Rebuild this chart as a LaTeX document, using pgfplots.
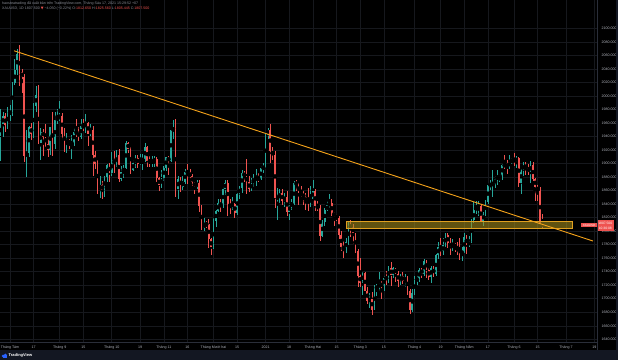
\documentclass[border=0pt]{standalone}
\usepackage{fontspec}
\setmainfont{Liberation Sans}
\newfontfamily\dejavu{DejaVu Sans}
\usepackage{pgfplots}
\usepackage{pgfplotstable}
\pgfplotsset{compat=1.18}
\definecolor{upc}{HTML}{26A69A}
\definecolor{dnc}{HTML}{EF5350}
\definecolor{txt}{HTML}{B2B5BE}
\definecolor{txtd}{HTML}{8A8D96}
\definecolor{gridc}{HTML}{16181D}
\definecolor{sepc}{HTML}{2A2E39}
\definecolor{trend}{HTML}{F5A31A}
\definecolor{zonef}{HTML}{A08A1C}
\definecolor{zoned}{HTML}{E0A020}
\definecolor{barc}{HTML}{131722}
\definecolor{tvblue}{HTML}{2962FF}

\pgfplotstableread{
i o h l c
-4 1941 1981 1904 1958
-3 1958 1977 1939 1970
-2 1970 1975 1946 1957
-1 1957 1984 1951 1975
0 1975 1987 1963 1976
1 1976 2021 1970 2019
2 2019 2055 2016 2038
3 2038 2070 2031 2062
4 2062 2075 2015 2035
5 2035 2040 2004 2028
6 2028 2032 1902 1911
7 1911 1950 1880 1915
8 1915 1956 1910 1954
9 1954 1960 1935 1944
10 1944 1989 1938 1985
11 1985 2015 1976 2002
12 2002 2016 1929 1930
13 1930 1952 1905 1947
14 1947 1951 1911 1940
15 1940 1958 1925 1929
16 1929 1939 1910 1920
17 1920 1954 1912 1954
18 1954 1977 1911 1929
19 1929 1976 1921 1964
20 1964 1980 1958 1968
21 1968 1993 1963 1971
22 1971 1975 1935 1944
23 1944 1953 1917 1930
24 1930 1945 1916 1934
25 1934 1937 1921 1930
26 1930 1942 1907 1931
27 1931 1952 1926 1947
28 1947 1966 1939 1946
29 1946 1954 1934 1940
30 1940 1966 1937 1956
31 1956 1966 1948 1954
32 1954 1973 1945 1960
33 1960 1962 1926 1944
34 1944 1959 1941 1950
35 1950 1955 1882 1912
36 1912 1918 1892 1900
37 1900 1906 1855 1863
38 1863 1881 1849 1868
39 1868 1874 1848 1861
40 1861 1882 1851 1880
41 1880 1900 1873 1898
42 1898 1901 1872 1886
43 1886 1917 1882 1906
44 1906 1918 1886 1899
45 1899 1920 1895 1913
46 1913 1921 1873 1877
47 1877 1896 1874 1887
48 1887 1898 1878 1894
49 1894 1933 1892 1930
50 1930 1932 1915 1922
51 1922 1925 1885 1891
52 1891 1905 1889 1901
53 1901 1912 1893 1908
54 1908 1912 1893 1900
55 1900 1914 1898 1904
56 1904 1914 1891 1907
57 1907 1931 1903 1924
58 1924 1926 1895 1904
59 1904 1911 1895 1902
60 1902 1911 1895 1903
61 1903 1911 1895 1907
62 1907 1910 1873 1878
63 1878 1880 1860 1868
64 1868 1890 1864 1879
65 1879 1897 1874 1894
66 1894 1910 1889 1909
67 1909 1911 1883 1904
68 1904 1951 1902 1950
69 1950 1965 1936 1951
70 1951 1966 1850 1862
71 1862 1881 1848 1877
72 1877 1880 1858 1866
73 1866 1881 1861 1873
74 1873 1892 1870 1888
75 1888 1899 1870 1887
76 1887 1892 1874 1881
77 1881 1885 1867 1872
78 1872 1873 1855 1866
79 1866 1876 1862 1871
80 1871 1876 1828 1837
81 1837 1839 1801 1805
82 1805 1819 1800 1811
83 1811 1815 1804 1810
84 1810 1818 1775 1788
85 1788 1790 1764 1776
86 1776 1820 1773 1815
87 1815 1832 1806 1830
88 1830 1847 1828 1841
89 1841 1848 1829 1838
90 1838 1866 1834 1863
91 1863 1875 1853 1871
92 1871 1875 1823 1839
93 1839 1848 1826 1837
94 1837 1850 1832 1840
95 1840 1842 1819 1827
96 1827 1857 1824 1855
97 1855 1867 1848 1864
98 1864 1891 1856 1886
99 1886 1889 1873 1881
100 1881 1907 1855 1873
101 1873 1882 1858 1862
102 1862 1879 1859 1871
103 1871 1884 1866 1877
104 1877 1892 1867 1878
105 1878 1886 1872 1877
106 1877 1897 1875 1893
107 1893 1901 1886 1895
108 1895 1944 1893 1943
109 1943 1952 1937 1950
110 1950 1959 1901 1918
111 1918 1925 1906 1913
112 1913 1918 1834 1849
113 1849 1864 1817 1850
114 1850 1863 1842 1856
115 1856 1862 1839 1845
116 1845 1856 1836 1851
117 1851 1859 1822 1828
118 1828 1842 1816 1839
119 1839 1848 1831 1840
120 1840 1874 1838 1871
121 1871 1875 1860 1870
122 1870 1871 1838 1856
123 1856 1867 1850 1855
124 1855 1860 1838 1850
125 1850 1856 1832 1844
126 1844 1864 1830 1843
127 1843 1867 1836 1848
128 1848 1875 1846 1860
129 1860 1863 1830 1837
130 1837 1845 1830 1834
131 1834 1838 1785 1793
132 1793 1817 1791 1814
133 1814 1835 1808 1831
134 1831 1845 1830 1838
135 1838 1855 1834 1842
136 1842 1848 1823 1826
137 1826 1828 1808 1824
138 1824 1825 1815 1819
139 1819 1823 1789 1795
140 1795 1800 1770 1776
141 1776 1786 1761 1775
142 1775 1790 1767 1784
143 1784 1815 1780 1808
144 1808 1816 1792 1806
145 1806 1810 1781 1797
146 1797 1798 1768 1770
147 1770 1774 1717 1734
148 1734 1760 1718 1724
149 1724 1740 1705 1738
150 1738 1739 1711 1712
151 1712 1717 1692 1697
152 1697 1709 1687 1700
153 1700 1710 1676 1684
154 1684 1720 1684 1716
155 1716 1722 1704 1717
156 1717 1739 1712 1722
157 1722 1726 1699 1719
158 1719 1734 1712 1731
159 1731 1741 1720 1730
160 1730 1748 1723 1745
161 1745 1755 1719 1735
162 1735 1747 1730 1745
163 1745 1746 1725 1737
164 1737 1741 1718 1726
165 1726 1737 1721 1734
166 1734 1740 1722 1726
167 1726 1736 1717 1732
168 1732 1734 1705 1712
169 1712 1714 1677 1684
170 1684 1714 1680 1708
171 1708 1733 1706 1728
172 1728 1737 1720 1729
173 1729 1745 1725 1743
174 1743 1745 1730 1737
175 1737 1759 1734 1756
176 1756 1758 1731 1743
177 1743 1746 1727 1732
178 1732 1748 1723 1746
179 1746 1749 1732 1736
180 1736 1766 1734 1764
181 1764 1784 1759 1777
182 1777 1790 1763 1770
183 1770 1790 1764 1779
184 1779 1797 1776 1794
185 1794 1798 1775 1782
186 1782 1790 1765 1777
187 1777 1789 1771 1780
188 1780 1782 1769 1777
189 1777 1784 1764 1773
190 1773 1790 1757 1768
191 1768 1776 1756 1769
192 1769 1798 1767 1792
193 1792 1794 1766 1779
194 1779 1793 1777 1785
195 1785 1818 1783 1816
196 1816 1843 1812 1831
197 1831 1845 1826 1836
198 1836 1845 1822 1837
199 1837 1838 1813 1815
200 1815 1829 1808 1826
201 1826 1846 1822 1843
202 1843 1869 1840 1868
203 1868 1875 1861 1869
204 1869 1890 1850 1870
205 1870 1881 1864 1877
206 1877 1890 1869 1881
207 1881 1884 1872 1882
208 1882 1900 1876 1898
209 1898 1913 1892 1897
210 1897 1905 1885 1895
211 1895 1913 1892 1903
212 1903 1908 1900 1906
213 1906 1916 1896 1903
214 1903 1911 1893 1908
215 1908 1910 1865 1871
216 1871 1892 1855 1891
217 1891 1903 1882 1898
218 1898 1903 1883 1893
219 1893 1900 1883 1888
220 1888 1904 1871 1898
221 1898 1903 1874 1877
222 1877 1878 1845 1866
223 1866 1869 1845 1859
224 1859 1866 1811 1812
225 1812 1825 1805 1807.5
}\candles

\begin{document}
\begin{tikzpicture}[x=1pt,y=1pt]
\useasboundingbox (0,0) rectangle (618,360);
\fill[black] (0,0) rectangle (618,360);
\begin{axis}[
  at={(0pt,360pt)}, anchor=north west, scale only axis,
  width=597pt, height=342pt,
  xmin=-4.23, xmax=248.1, ymin=1636, ymax=2142,
  axis line style={draw=none},
  major tick length=0pt,
  clip mode=individual,
  /pgf/number format/assume math mode=true,
  ytick={1640,1660,...,2100},
  yticklabel pos=right,
  yticklabel style={font=\fontsize{3.6}{4}\selectfont, color=txt, xshift=1pt,
    /pgf/number format/.cd, fixed, fixed zerofill, precision=3, 1000 sep={}},
  xtick={0,10,21,31,43,55,65,75,86,96,108,118,128,138,148,158,171,182,192,202,213,223,235,247},
  xticklabels={Tháng Tám,17,Tháng 9,15,Tháng 10,19,Tháng 11,16,Tháng Mười hai,15,2021,18,Tháng Hai,15,Tháng 3,15,Tháng 4,19,Tháng Năm,17,Tháng 6,15,Tháng 7,19},
  xticklabel style={font=\fontsize{3.6}{4}\selectfont, color=txt},
  grid=major,
  major grid style={gridc, line width=0.5pt},
]
% wicks
\addplot[only marks, mark=none,
  restrict expr to domain={\thisrow{c}-\thisrow{o}}{0:10000},
  error bars/.cd, y dir=both, y explicit, error mark=none,
  error bar style={upc, line width=0.6pt}]
  table[x=i, y expr={(\thisrow{h}+\thisrow{l})/2}, y error expr={(\thisrow{h}-\thisrow{l})/2}] {\candles};
\addplot[only marks, mark=none,
  restrict expr to domain={\thisrow{c}-\thisrow{o}}{-10000:-0.001},
  error bars/.cd, y dir=both, y explicit, error mark=none,
  error bar style={dnc, line width=0.6pt}]
  table[x=i, y expr={(\thisrow{h}+\thisrow{l})/2}, y error expr={(\thisrow{h}-\thisrow{l})/2}] {\candles};
% bodies
\addplot[only marks, mark=none,
  restrict expr to domain={\thisrow{c}-\thisrow{o}}{0:10000},
  error bars/.cd, y dir=both, y explicit, error mark=none,
  error bar style={upc, line width=1.65pt}]
  table[x=i, y expr={(\thisrow{o}+\thisrow{c})/2}, y error expr={max(abs(\thisrow{c}-\thisrow{o})/2,0.4)}] {\candles};
\addplot[only marks, mark=none,
  restrict expr to domain={\thisrow{c}-\thisrow{o}}{-10000:-0.001},
  error bars/.cd, y dir=both, y explicit, error mark=none,
  error bar style={dnc, line width=1.65pt}]
  table[x=i, y expr={(\thisrow{o}+\thisrow{c})/2}, y error expr={max(abs(\thisrow{c}-\thisrow{o})/2,0.4)}] {\candles};
% support zone
\addplot[fill=zonef, fill opacity=0.6, draw=zoned, draw opacity=1, line width=0.7pt]
  coordinates {(142,1803.6) (237.5,1803.6) (237.5,1815.0) (142,1815.0)} -- cycle;
% trend line
\addplot[trend, line width=0.9pt] coordinates {(1.7,2066.9) (246.4,1785.4)};
% price labels, tied to the axis
\fill[dnc] (axis cs:241.4,1805.6) rectangle (axis cs:248.1,1811.9);
\node[font=\fontsize{3}{3.5}\selectfont, text=white, inner sep=0pt] at (axis cs:244.75,1808.7) {XAUUSD};
\fill[dnc] (axis cs:248.1,1800.6) rectangle (axis cs:255.1,1815.9);
\node[font=\fontsize{3.3}{4}\selectfont, text=white, inner sep=0pt] at (axis cs:251.6,1812.1) {1807.500};
\node[font=\fontsize{3.3}{4}\selectfont, text=white, inner sep=0pt] at (axis cs:251.6,1804.5) {10:30:08};
\end{axis}
% separators
\draw[sepc, line width=0.6pt] (597.5,10) -- (597.5,360);
\draw[sepc, line width=0.4pt] (0,18) -- (597.5,18);
\fill[barc] (615.5,0) rectangle (618,360);
\fill[barc] (0,0) rectangle (618,10);
% header
\node[anchor=west, font=\fontsize{3.6}{4}\selectfont, text=txtd, inner sep=0pt] at (2,360-3.6)
  {haosteatrading đã xuất bản trên TradingView.com, Tháng Sáu 17, 2021 15:29:52 +07};
\node[anchor=west, font=\fontsize{3.6}{4}\selectfont, text=txtd, inner sep=0pt] at (2,360-9)
  {XAUUSD, 1D 1807.500 {\dejavu\textcolor{dnc}{▼}} −4.050 (−0.22\%) O:\textcolor{dnc}{1812.650} H:\textcolor{dnc}{1825.560} L:\textcolor{dnc}{1805.445} C:\textcolor{dnc}{1807.500}};
% logo
\fill[tvblue] (3.2,4) circle (1.5);
\fill[tvblue] (5.3,4.6) circle (1.9);
\fill[tvblue] (3.2,2.5) rectangle (7.4,4.4);
\node[anchor=west, font=\fontsize{4}{4.5}\selectfont\bfseries, text=white, inner sep=0pt] at (8.5,4.7) {TradingView};
\end{tikzpicture}
\end{document}
